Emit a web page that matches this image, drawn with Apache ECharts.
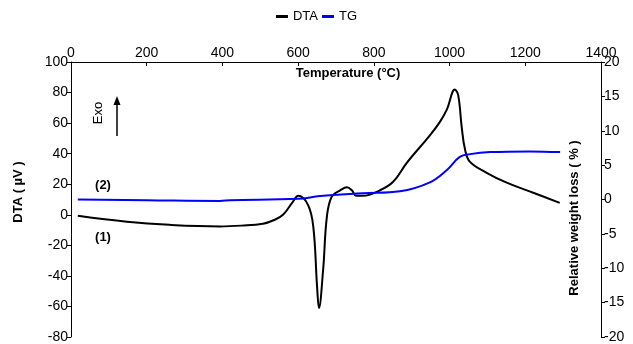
<!DOCTYPE html>
<html>
<head>
<meta charset="utf-8">
<script src="https://cdn.jsdelivr.net/npm/echarts@6/dist/echarts.min.js"></script>
<style>
  html, body { margin: 0; padding: 0; background: #fff; }
  #chart { width: 633px; height: 344px; }
</style>
</head>
<body>
<div id="chart"></div>
<script>
// temperature (°C) / DTA (µV)
const dtaTemp = [18, 148, 260, 394, 450, 507, 535, 560, 586, 600, 626, 640, 650, 655, 666, 676, 689, 711, 729, 742, 753, 771, 816, 851, 887, 948, 975, 993, 1014, 1023, 1032, 1041, 1054, 1098, 1151, 1221, 1291];
const dtaVals = [-0.7, -4.6, -6.6, -7.6, -7.1, -5.9, -3.6, 0, 8.5, 12.4, 6.5, -7.8, -47, -61, -36, -1, 12, 16, 18, 16, 12.4, 12.4, 16, 21.6, 34, 52, 61, 69, 82, 78, 57.5, 42.5, 34.6, 27.5, 21, 14.4, 7.8];
// temperature (°C) / TG (%)
const tgTemp = [18, 200, 394, 420, 600, 658, 771, 869, 948, 993, 1027, 1054, 1107, 1212, 1292];
const tgVals = [0, -0.1, -0.2, -0.1, 0.1, 0.5, 0.9, 1.2, 2.5, 4.3, 6.2, 6.6, 6.9, 7.0, 6.9];
const xTicks = [0, 1400, 200];
const leftTicks = [-80, 100, 20];
const rightTicks = [-20, 20, 5];

const zip = (a, b) => a.map((v, i) => [v, b[i]]);
const font = 'Liberation Sans, Arial, sans-serif';

const chart = echarts.init(document.getElementById('chart'));
const option = {
  backgroundColor: '#fff',
  animation: false,
  textStyle: { fontFamily: font },
  grid: { left: 71, right: 32, top: 62, bottom: 7 },
  legend: {
    top: 5,
    left: 'center',
    icon: 'rect',
    itemWidth: 12,
    itemHeight: 3,
    itemGap: 4,
    textStyle: { fontSize: 13, color: '#000', fontFamily: font },
    data: ['DTA', 'TG']
  },
  xAxis: {
    type: 'value',
    position: 'top',
    min: xTicks[0], max: xTicks[1], interval: xTicks[2],
    axisLine: { show: true, onZero: false, lineStyle: { color: '#000', width: 1 } },
    axisTick: { show: true, inside: true, length: 4, lineStyle: { color: '#000' } },
    axisLabel: { color: '#000', fontSize: 14, margin: 2, formatter: v => String(v) },
    splitLine: { show: false }
  },
  yAxis: [
    {
      type: 'value',
      min: leftTicks[0], max: leftTicks[1], interval: leftTicks[2],
      axisLine: { show: true, onZero: false, lineStyle: { color: '#000', width: 1 } },
      axisTick: { show: true, length: 4, lineStyle: { color: '#000' } },
      axisLabel: { color: '#000', fontSize: 14, margin: 3 },
      splitLine: { show: false }
    },
    {
      type: 'value',
      position: 'right',
      min: rightTicks[0], max: rightTicks[1], interval: rightTicks[2],
      axisLine: { show: true, onZero: false, lineStyle: { color: '#000', width: 1 } },
      axisTick: { show: true, length: 4, lineStyle: { color: '#000' } },
      axisLabel: { color: '#000', fontSize: 14, margin: 3 },
      splitLine: { show: false }
    }
  ],
  series: [
    {
      name: 'DTA',
      type: 'line',
      yAxisIndex: 0,
      data: zip(dtaTemp, dtaVals),
      smooth: 0.4,
      showSymbol: false,
      lineStyle: { color: '#000', width: 2 },
      itemStyle: { color: '#000' }
    },
    {
      name: 'TG',
      type: 'line',
      yAxisIndex: 1,
      data: zip(tgTemp, tgVals),
      smooth: 0.4,
      showSymbol: false,
      lineStyle: { color: '#0000ff', width: 2 },
      itemStyle: { color: '#0000ff' }
    }
  ],
  graphic: [
    { type: 'text', x: 348, y: 73, style: { text: 'Temperature (°C)', font: 'bold 13px ' + font, fill: '#000', align: 'center', verticalAlign: 'middle' } },
    { type: 'text', x: 18, y: 192, rotation: Math.PI / 2, style: { text: 'DTA ( µV )', font: 'bold 13px ' + font, fill: '#000', align: 'center', verticalAlign: 'middle' } },
    { type: 'text', x: 574, y: 218, rotation: Math.PI / 2, style: { text: 'Relative weight loss ( % )', font: 'bold 13px ' + font, fill: '#000', align: 'center', verticalAlign: 'middle' } },
    { type: 'text', x: 98, y: 113, rotation: Math.PI / 2, style: { text: 'Exo', font: '13px ' + font, fill: '#000', align: 'center', verticalAlign: 'middle' } },
    { type: 'line', shape: { x1: 117, y1: 104, x2: 117, y2: 136 }, style: { stroke: '#000', lineWidth: 1.5 } },
    { type: 'polygon', shape: { points: [[117, 96], [113.5, 105], [120.5, 105]] }, style: { fill: '#000' } },
    { type: 'text', x: 103, y: 185, style: { text: '(2)', font: 'bold 13px ' + font, fill: '#000', align: 'center', verticalAlign: 'middle' } },
    { type: 'text', x: 103, y: 237, style: { text: '(1)', font: 'bold 13px ' + font, fill: '#000', align: 'center', verticalAlign: 'middle' } }
  ]
};
chart.setOption(option);
</script>
</body>
</html>
